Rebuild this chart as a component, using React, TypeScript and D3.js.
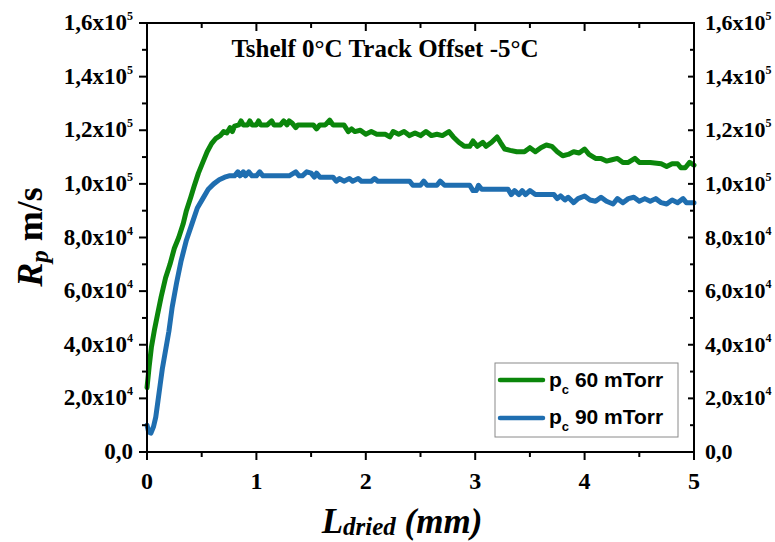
import React from 'react';
import * as d3 from 'd3';

// ---- data (y values in units of 1e4 m/s) ----
const xTickValues = [0, 1, 2, 3, 4, 5];
const xMinorTicks = [0.5, 1.5, 2.5, 3.5, 4.5];
const yTickValues = [0, 2, 4, 6, 8, 10, 12, 14, 16];
const yMinorTicks = [1, 3, 5, 7, 9, 11, 13, 15];
const yTickMantissa = ['0,0', '2,0', '4,0', '6,0', '8,0', '1,0', '1,2', '1,4', '1,6'];
const yTickExponent = ['', '4', '4', '4', '4', '5', '5', '5', '5'];
const titleText = 'Tshelf 0°C Track Offset -5°C';
const seriesLabels = ['60 mTorr', '90 mTorr'];

const p60X = [0.00, 0.02, 0.04, 0.07, 0.10, 0.13, 0.17, 0.21, 0.25, 0.29, 0.33, 0.36, 0.40, 0.43, 0.47, 0.51, 0.55, 0.59, 0.63, 0.67, 0.70, 0.73, 0.76, 0.78, 0.80, 0.84, 0.86, 0.88, 0.92, 0.94, 0.96, 1.00, 1.02, 1.04, 1.10, 1.14, 1.16, 1.22, 1.25, 1.28, 1.30, 1.33, 1.36, 1.38, 1.45, 1.52, 1.55, 1.58, 1.63, 1.67, 1.70, 1.80, 1.84, 1.87, 1.90, 1.95, 2.00, 2.05, 2.10, 2.18, 2.22, 2.25, 2.30, 2.35, 2.40, 2.45, 2.50, 2.55, 2.60, 2.65, 2.70, 2.76, 2.80, 2.85, 2.90, 2.95, 2.98, 3.02, 3.07, 3.10, 3.15, 3.20, 3.23, 3.27, 3.32, 3.38, 3.45, 3.50, 3.55, 3.60, 3.65, 3.70, 3.75, 3.80, 3.85, 3.90, 3.95, 4.00, 4.04, 4.10, 4.15, 4.20, 4.25, 4.30, 4.35, 4.40, 4.46, 4.50, 4.60, 4.70, 4.75, 4.80, 4.85, 4.88, 4.92, 4.96, 5.00];
const p60Y = [2.4, 3.2, 3.9, 4.6, 5.2, 5.8, 6.5, 7.0, 7.6, 8.0, 8.5, 9.0, 9.5, 9.9, 10.4, 10.8, 11.2, 11.5, 11.7, 11.8, 11.95, 11.9, 12.1, 11.95, 12.15, 12.2, 12.35, 12.2, 12.2, 12.35, 12.2, 12.2, 12.35, 12.2, 12.2, 12.35, 12.2, 12.2, 12.35, 12.2, 12.35, 12.25, 12.1, 12.2, 12.2, 12.2, 12.05, 12.2, 12.2, 12.38, 12.2, 12.2, 11.95, 12.05, 11.95, 12.0, 11.85, 11.95, 11.85, 11.85, 11.75, 11.95, 11.85, 11.95, 11.8, 11.9, 11.8, 11.95, 11.8, 11.85, 11.8, 11.95, 11.75, 11.55, 11.4, 11.4, 11.6, 11.4, 11.55, 11.4, 11.55, 11.75, 11.55, 11.3, 11.25, 11.2, 11.2, 11.35, 11.2, 11.35, 11.45, 11.4, 11.2, 11.05, 11.1, 11.2, 11.15, 11.3, 11.1, 10.95, 10.95, 10.85, 10.9, 10.95, 10.8, 10.8, 10.95, 10.8, 10.8, 10.75, 10.65, 10.75, 10.75, 10.6, 10.6, 10.8, 10.7];

const p90X = [0.00, 0.015, 0.035, 0.06, 0.08, 0.10, 0.12, 0.14, 0.17, 0.20, 0.23, 0.27, 0.31, 0.36, 0.41, 0.46, 0.51, 0.56, 0.61, 0.66, 0.71, 0.75, 0.80, 0.83, 0.85, 0.88, 0.90, 0.93, 0.96, 1.00, 1.03, 1.06, 1.20, 1.30, 1.36, 1.39, 1.42, 1.46, 1.50, 1.53, 1.55, 1.58, 1.70, 1.73, 1.76, 1.80, 1.85, 1.88, 1.93, 1.96, 2.05, 2.08, 2.11, 2.40, 2.43, 2.50, 2.53, 2.56, 2.65, 2.68, 2.72, 2.95, 2.98, 3.01, 3.03, 3.06, 3.30, 3.33, 3.36, 3.40, 3.43, 3.46, 3.50, 3.55, 3.72, 3.75, 3.78, 3.82, 3.85, 3.90, 3.94, 4.00, 4.05, 4.10, 4.15, 4.20, 4.26, 4.30, 4.35, 4.40, 4.45, 4.50, 4.55, 4.60, 4.65, 4.70, 4.75, 4.80, 4.85, 4.90, 4.93, 5.00];
const p90Y = [1.0, 0.75, 0.7, 0.95, 1.3, 1.9, 2.5, 3.1, 3.8, 4.5, 5.4, 6.3, 7.1, 7.9, 8.5, 9.1, 9.45, 9.8, 10.0, 10.15, 10.25, 10.3, 10.3, 10.45, 10.3, 10.45, 10.3, 10.45, 10.3, 10.3, 10.45, 10.3, 10.3, 10.3, 10.45, 10.3, 10.3, 10.45, 10.4, 10.25, 10.4, 10.25, 10.25, 10.1, 10.2, 10.1, 10.2, 10.1, 10.2, 10.1, 10.1, 10.2, 10.1, 10.1, 9.95, 9.95, 10.1, 9.95, 9.95, 10.1, 9.95, 9.95, 9.75, 9.75, 9.95, 9.8, 9.8, 9.6, 9.75, 9.6, 9.75, 9.6, 9.75, 9.6, 9.6, 9.45, 9.55, 9.4, 9.5, 9.3, 9.45, 9.55, 9.4, 9.35, 9.5, 9.35, 9.25, 9.45, 9.3, 9.45, 9.5, 9.35, 9.45, 9.35, 9.45, 9.3, 9.25, 9.4, 9.3, 9.45, 9.3, 9.3];

const GREEN = '#0b860b';
const BLUE = '#1f6eb0';

const W = 775;
const H = 542;
const L = 147, R = 694, T = 23, B = 452;

const serif = '"Liberation Serif", "Times New Roman", serif';
const sans = '"Liberation Sans", Arial, sans-serif';

export default function App() {
  const x = d3.scaleLinear().domain([0, 5]).range([L, R]);
  const y = d3.scaleLinear().domain([0, 16]).range([B, T]);
  const line = d3.line<[number, number]>().x(d => x(d[0])).y(d => y(d[1])).curve(d3.curveLinear);

  const d60 = line(p60X.map((v, i) => [v, p60Y[i]] as [number, number])) || '';
  const d90 = line(p90X.map((v, i) => [v, p90Y[i]] as [number, number])) || '';

  const axisStroke = 2;

  return (
    <svg width={W} height={H} style={{ position: 'absolute', left: 0, top: 0, background: '#fff' }}>
      <rect x={0} y={0} width={W} height={H} fill="#fff" />
      {/* data */}
      <path d={d90} fill="none" stroke={BLUE} strokeWidth={5} strokeLinejoin="round" strokeLinecap="round" />
      <path d={d60} fill="none" stroke={GREEN} strokeWidth={5} strokeLinejoin="round" strokeLinecap="round" />

      {/* frame */}
      <rect x={L} y={T} width={R - L} height={B - T} fill="none" stroke="#000" strokeWidth={axisStroke} />

      {/* x ticks bottom (out) and top (in) */}
      {xTickValues.map(v => (
        <g key={'xt' + v}>
          <line x1={x(v)} x2={x(v)} y1={B} y2={B + 8} stroke="#000" strokeWidth={2} />
          <line x1={x(v)} x2={x(v)} y1={T} y2={T + 8} stroke="#000" strokeWidth={2} />
          <text x={x(v)} y={489} textAnchor="middle" fontFamily={serif} fontWeight="bold" fontSize={24}>{v}</text>
        </g>
      ))}
      {xMinorTicks.map(v => (
        <g key={'xm' + v}>
          <line x1={x(v)} x2={x(v)} y1={B} y2={B + 5} stroke="#000" strokeWidth={2} />
          <line x1={x(v)} x2={x(v)} y1={T} y2={T + 5} stroke="#000" strokeWidth={2} />
        </g>
      ))}

      {/* y ticks left (out) and right (in) */}
      {yTickValues.map((v, i) => (
        <g key={'yt' + v}>
          <line x1={L - 8} x2={L} y1={y(v)} y2={y(v)} stroke="#000" strokeWidth={2} />
          <line x1={R - 6} x2={R} y1={y(v)} y2={y(v)} stroke="#000" strokeWidth={2} />
          <text x={133} y={y(v) + 7} textAnchor="end" fontFamily={serif} fontWeight="bold" fontSize={23}>
            {yTickMantissa[i] + (yTickExponent[i] ? 'x10' : '')}
            {yTickExponent[i] ? <tspan dy={-10} fontSize={12}>{yTickExponent[i]}</tspan> : null}
          </text>
          <text x={705} y={y(v) + 7} textAnchor="start" fontFamily={serif} fontWeight="bold" fontSize={22}>
            {yTickMantissa[i] + (yTickExponent[i] ? 'x10' : '')}
            {yTickExponent[i] ? <tspan dy={-10} fontSize={12}>{yTickExponent[i]}</tspan> : null}
          </text>
        </g>
      ))}
      {yMinorTicks.map(v => (
        <g key={'ym' + v}>
          <line x1={L - 5} x2={L} y1={y(v)} y2={y(v)} stroke="#000" strokeWidth={2} />
          <line x1={R - 4} x2={R} y1={y(v)} y2={y(v)} stroke="#000" strokeWidth={2} />
        </g>
      ))}

      {/* title */}
      <text x={385} y={57} textAnchor="middle" fontFamily={serif} fontWeight="bold" fontSize={25}>{titleText}</text>

      {/* y axis label */}
      <text transform="translate(42,237) rotate(-90)" textAnchor="middle" fontFamily={serif} fontWeight="bold" fontSize={36}>
        <tspan fontStyle="italic">R</tspan>
        <tspan fontStyle="italic" fontSize={25} dy={6}>p</tspan>
        <tspan dy={-6}> m/s</tspan>
      </text>

      {/* x axis label */}
      <text x={402} y={533} textAnchor="middle" fontFamily={serif} fontWeight="bold" fontStyle="italic" fontSize={35}>
        <tspan>L</tspan>
        <tspan fontSize={25} dy={2}>dried</tspan>
        <tspan dy={-2}> (mm)</tspan>
      </text>

      {/* legend */}
      <rect x={495} y={363} width={183} height={74} fill="#fff" stroke="#8a8a8a" strokeWidth={1} />
      {[GREEN, BLUE].map((c, i) => (
        <g key={'lg' + i}>
          <line x1={500} x2={543} y1={380 + i * 38} y2={380 + i * 38} stroke={c} strokeWidth={4.5} strokeLinecap="round" />
          <text x={549} y={387 + i * 37} fontFamily={sans} fontWeight="bold" fontSize={21}>
            <tspan>p</tspan>
            <tspan fontSize={13} dy={7}>c</tspan>
            <tspan dy={-7}>{' ' + seriesLabels[i]}</tspan>
          </text>
        </g>
      ))}
    </svg>
  );
}
